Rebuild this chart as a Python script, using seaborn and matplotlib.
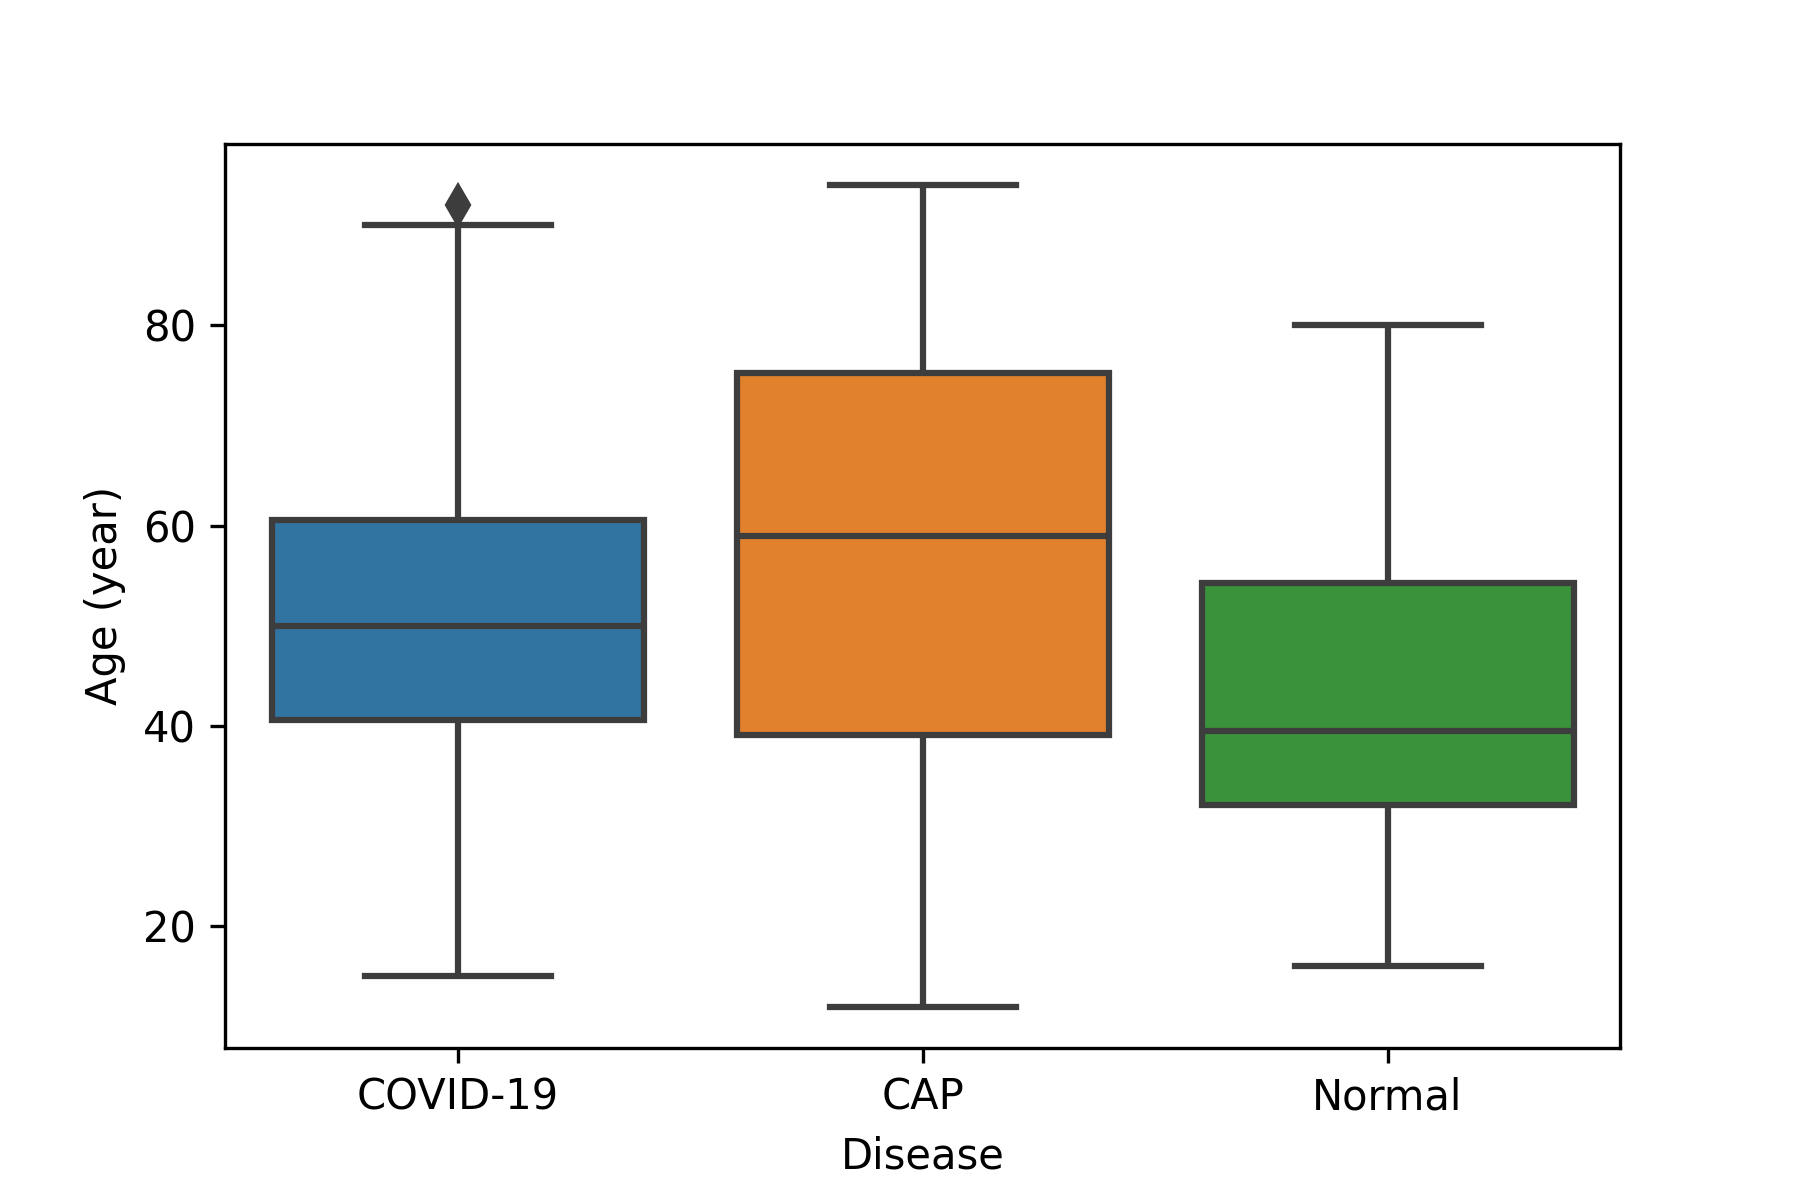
import pandas as pd
import seaborn as sns
import matplotlib.pyplot as plt

categories = ["COVID-19", "CAP", "Normal"]

# sample ages per group, chosen so the box stats match the picture
covid_age = [15, 30, 40.6, 45, 50, 55, 60.6, 90, 92]
cap_age = [12, 25, 39.1, 50, 59, 68, 75.2, 85, 94]
normal_age = [16, 25, 32.1, 36, 39.5, 48, 54.3, 65, 80]

df = pd.DataFrame({
    "Disease": ["COVID-19"] * len(covid_age) + ["CAP"] * len(cap_age) + ["Normal"] * len(normal_age),
    "Age (year)": covid_age + cap_age + normal_age,
})

fig, ax = plt.subplots(figsize=(6, 4), dpi=300)
plt.subplots_adjust(left=0.125, right=0.9, top=0.88, bottom=0.127)

sns.boxplot(data=df, x="Disease", y="Age (year)", hue="Disease", order=categories,
            palette="tab10", saturation=0.75, linecolor="#3d3d3d", linewidth=1.5,
            width=0.8, legend=False, ax=ax,
            flierprops=dict(marker="d", markerfacecolor="#3d3d3d",
                            markeredgecolor="#3d3d3d", markersize=6.5))

plt.savefig("out.png")
